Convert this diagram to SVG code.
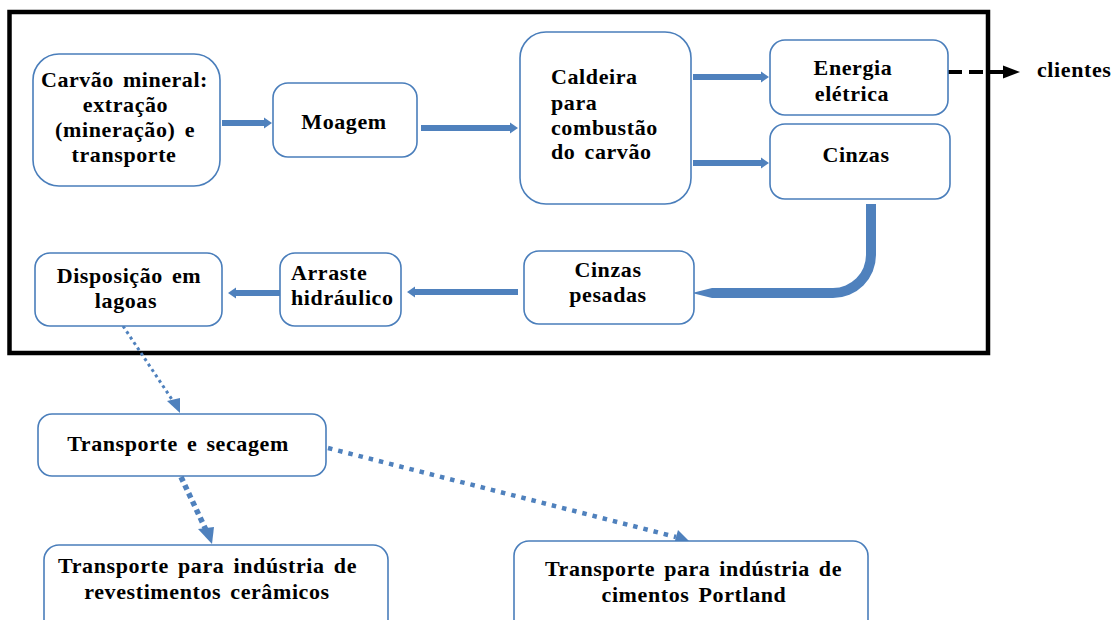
<svg xmlns="http://www.w3.org/2000/svg" width="1114" height="620" viewBox="0 0 1114 620">
<defs>
<style>
.box{fill:#fff;stroke:#4a7ebb;stroke-width:1.6}
.blk{fill:#4f81bd}
.dot{fill:none;stroke:#4f81bd}
.ah{fill:#4f81bd}
.t{font-family:"Liberation Serif","Times New Roman",serif;font-weight:bold;font-size:22px;fill:#000;letter-spacing:0.6px;word-spacing:3px}
.m{text-anchor:middle}
</style>
</defs>
<rect width="1114" height="620" fill="#fff"/>
<rect x="9.5" y="12" width="978.5" height="341" fill="none" stroke="#000" stroke-width="4.5"/>

<g id="connectors">
<path class="blk" d="M222,120 L264,120 L264,117.5 L272,123 L264,128.5 L264,126 L222,126 Z"/>
<path class="blk" d="M421,125 L510,125 L510,122.5 L518,128 L510,133.5 L510,131 L421,131 Z"/>
<path class="blk" d="M693,74 L761,74 L761,71.5 L769,77 L761,82.5 L761,80 L693,80 Z"/>
<path class="blk" d="M693,160 L761,160 L761,157.5 L769,163 L761,168.5 L761,166 L693,166 Z"/>
<path class="blk" d="M866,204 L876,204 L876,255 A43,43 0 0 1 833,298 L712,298 L692,293 L712,288 L833,288 A33,33 0 0 0 866,255 Z"/>
<path class="blk" d="M518,289 L415,289 L415,286.5 L407,292 L415,297.5 L415,295 L518,295 Z"/>
<path class="blk" d="M280,290 L236,290 L236,287.5 L228,293 L236,298.5 L236,296 L280,296 Z"/>
<path d="M948,72 L1004,72" stroke="#000" stroke-width="4" stroke-dasharray="14 7" fill="none"/>
<path d="M1003,65.5 L1020,72 L1003,78.5 Z" fill="#000"/>
<path class="dot" d="M123,326 L173,401" stroke-width="3" stroke-dasharray="3 3.5"/>
<path class="ah" d="M180,413 L167,401 L180,398 Z"/>
<path class="dot" d="M181,477 L206,530" stroke-width="5.5" stroke-dasharray="5 4"/>
<path class="ah" d="M212,544 L198,529 L214,527 Z"/>
<path class="dot" d="M328,448 L676,537" stroke-width="4.5" stroke-dasharray="4.5 6"/>
<path class="ah" d="M690,542 L674,544 L678,530 Z"/>
</g>

<g id="n1">
<rect class="box" x="33" y="54" width="187" height="132" rx="26"/>
<text class="t" x="41" y="87" textLength="167" lengthAdjust="spacing">Carvão mineral:</text>
<text class="t m" x="125.5" y="112">extração</text>
<text class="t" x="55" y="137" textLength="140" lengthAdjust="spacing">(mineração) e</text>
<text class="t m" x="124" y="162">transporte</text>
</g>
<g id="n2">
<rect class="box" x="273" y="83" width="144" height="74" rx="15"/>
<text class="t m" x="344" y="129">Moagem</text>
</g>
<g id="n3">
<rect class="box" x="520" y="32" width="171" height="172" rx="26"/>
<text class="t" x="551" y="84">Caldeira</text>
<text class="t" x="551" y="110">para</text>
<text class="t" x="551" y="135">combustão</text>
<text class="t" x="551" y="159">do carvão</text>
</g>
<g id="n4">
<rect class="box" x="770" y="40" width="178" height="75" rx="15"/>
<text class="t m" x="853" y="75">Energia</text>
<text class="t m" x="852" y="101">elétrica</text>
</g>
<g id="n5">
<rect class="box" x="770" y="124" width="180" height="75" rx="15"/>
<text class="t m" x="856" y="162">Cinzas</text>
</g>
<g id="n6">
<text class="t" x="1037" y="77">clientes</text>
</g>
<g id="n7">
<rect class="box" x="524" y="251" width="170" height="73" rx="15"/>
<text class="t m" x="608" y="277">Cinzas</text>
<text class="t m" x="608" y="302">pesadas</text>
</g>
<g id="n8">
<rect class="box" x="280" y="253" width="121" height="73" rx="15"/>
<text class="t" x="291" y="280">Arraste</text>
<text class="t" x="291" y="305">hidráulico</text>
</g>
<g id="n9">
<rect class="box" x="35" y="253" width="187" height="73" rx="15"/>
<text class="t m" x="129" y="283">Disposição em</text>
<text class="t m" x="126" y="308">lagoas</text>
</g>
<g id="n10">
<rect class="box" x="38" y="414" width="288" height="62" rx="14"/>
<text class="t m" x="178" y="451">Transporte e secagem</text>
</g>
<g id="n11">
<rect class="box" x="44" y="545" width="344" height="90" rx="15"/>
<text class="t" x="58" y="573" textLength="299" lengthAdjust="spacing">Transporte para indústria de</text>
<text class="t m" x="207" y="599">revestimentos cerâmicos</text>
</g>
<g id="n12">
<rect class="box" x="514" y="541" width="354" height="94" rx="15"/>
<text class="t" x="545" y="576" textLength="297" lengthAdjust="spacing">Transporte para indústria de</text>
<text class="t m" x="694" y="602">cimentos Portland</text>
</g>
</svg>
